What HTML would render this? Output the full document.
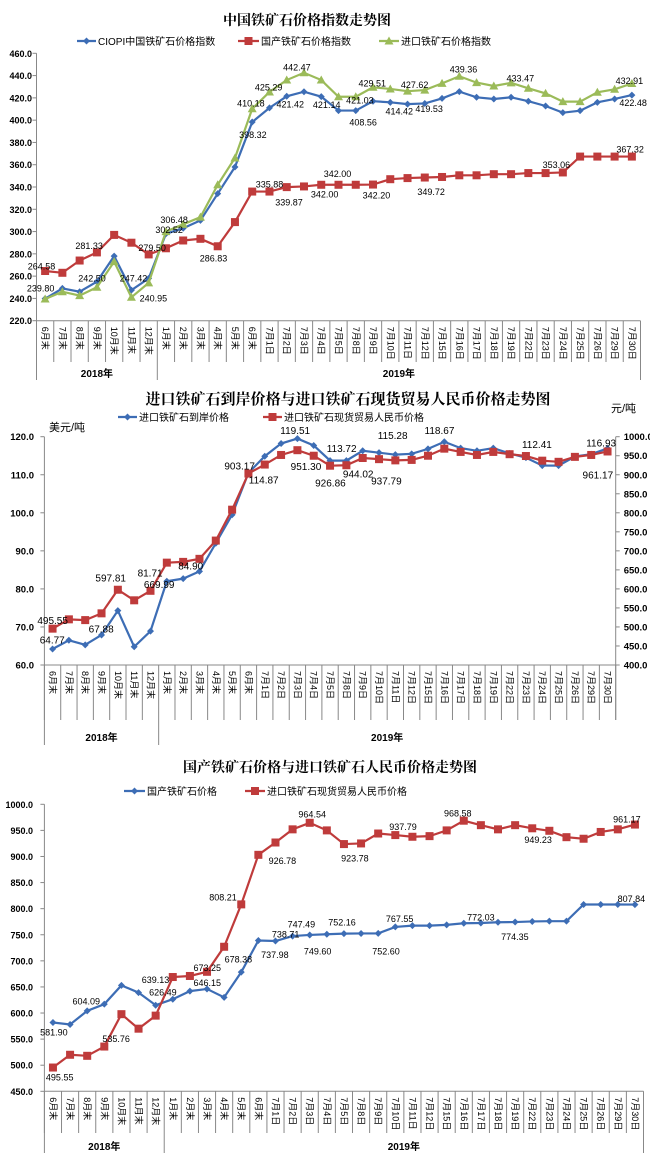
<!DOCTYPE html>
<html><head><meta charset="utf-8"><style>
body{margin:0;background:#fff}
svg{display:block}
text{font-family:"Liberation Sans","Noto Sans CJK SC",sans-serif;fill:#000}
.t{font-family:"Liberation Serif","Noto Serif CJK SC",serif;font-weight:bold}
</style></head><body>
<svg id="s" width="650" height="1165" viewBox="0 0 650 1165" xmlns="http://www.w3.org/2000/svg"></svg>
<script>
const S=document.getElementById('s');let h='';
const cats=['6月末','7月末','8月末','9月末','10月末','11月末','12月末','1月末','2月末','3月末','4月末','5月末','6月末','7月1日','7月2日','7月3日','7月4日','7月5日','7月8日','7月9日','7月10日','7月11日','7月12日','7月15日','7月16日','7月17日','7月18日','7月19日','7月22日','7月23日','7月24日','7月25日','7月26日','7月29日','7月30日'];
const B='#3d6db5',R='#bf3b3b',G='#9bbb59';
function mk(t,x,y,c){
 if(t=='d')return `<path d="M${x} ${y-3.5}L${x+3.5} ${y}L${x} ${y+3.5}L${x-3.5} ${y}Z" fill="${c}"/>`;
 if(t=='s')return `<rect x="${x-4}" y="${y-4}" width="8" height="8" fill="${c}"/>`;
 return `<path d="M${x} ${y-4.5}L${x+4.5} ${y+3.5}L${x-4.5} ${y+3.5}Z" fill="${c}"/>`;
}
function chart(c){
 const cw=(c.x1-c.x0)/35,X=i=>c.x0+(i+0.5)*cw;
 const Y=(v,a)=>{a=a||c.L;return c.yb-(v-a[0])/(a[1]-a[0])*(c.yb-c.yt)};
 // axes
 h+=`<line x1="${c.x0}" y1="${c.yt}" x2="${c.x0}" y2="${c.ye}" stroke="#888"/>`;
 h+=`<line x1="${c.x0}" y1="${c.yb}" x2="${c.x1}" y2="${c.yb}" stroke="#888"/>`;
 if(c.Rt)h+=`<line x1="${c.x1}" y1="${c.yt}" x2="${c.x1}" y2="${c.yd}" stroke="#888"/>`;
 for(let v=c.L[0];v<=c.L[1]+1e-6;v+=c.L[2]){const y=Y(v);h+=`<line x1="${c.x0-4}" y1="${y}" x2="${c.x0}" y2="${y}" stroke="#888"/><text x="${c.lx}" y="${y+3.5}" font-size="${c.fs}" text-anchor="end" font-weight="bold">${v.toFixed(1)}</text>`;}
 if(c.Rt)for(let v=c.Rt[0];v<=c.Rt[1]+1e-6;v+=c.Rt[2]){const y=Y(v,c.Rt);h+=`<line x1="${c.x1}" y1="${y}" x2="${c.x1+4}" y2="${y}" stroke="#888"/><text x="${c.x1+8}" y="${y+3.5}" font-size="${c.fs}" font-weight="bold">${v.toFixed(1)}</text>`;}
 for(let i=0;i<=35;i++){const x=c.x0+i*cw;h+=`<line x1="${x}" y1="${c.yb}" x2="${x}" y2="${i==7?c.ye:(i==35&&!c.Rt?c.ye:c.yd)}" stroke="#888"/>`;}
 cats.forEach((t,i)=>{h+=`<text transform="translate(${X(i)-3},${c.yb+6}) rotate(90)" font-size="9">${t}</text>`});
 h+=`<text x="${c.x0+3.5*cw}" y="${c.yy}" font-size="10" font-weight="bold" text-anchor="middle">2018年</text><text x="${c.x0+21*cw}" y="${c.yy}" font-size="10" font-weight="bold" text-anchor="middle">2019年</text>`;
 c.ser.forEach(s=>{const a=s.r?c.Rt:c.L;h+=`<polyline points="${s.d.map((v,i)=>X(i)+','+Y(v,a)).join(' ')}" fill="none" stroke="${s.c}" stroke-width="2.2"/>`;s.d.forEach((v,i)=>h+=mk(s.m,X(i),Y(v,a),s.c));});
 c.lab.forEach(l=>h+=`<text x="${l[0]/2.412}" y="${l[1]/3+c.off+4}" font-size="${c.lfs}" text-anchor="middle">${l[2]}</text>`);
}
function leg(x1,x2,y,c,m,tx,t){h+=`<line x1="${x1}" y1="${y}" x2="${x2}" y2="${y}" stroke="${c}" stroke-width="2.2"/>`+mk(m,(x1+x2)/2,y,c)+`<text x="${tx}" y="${y+4}" font-size="10">${t}</text>`;}
// chart1
h+=`<text class="t" x="307" y="25" font-size="14" text-anchor="middle">中国铁矿石价格指数走势图</text>`;
leg(77,96,41,B,'d',98,'CIOPI中国铁矿石价格指数');leg(238,259,41,R,'s',261,'国产铁矿石价格指数');leg(379,399,41,G,'t',401,'进口铁矿石价格指数');
chart({x0:36.5,x1:640.5,yt:53.3,yb:320.7,ye:380,yd:362,L:[220,460,20],lx:32,fs:9,yy:377,off:0,lfs:9,
ser:[{d:[239.8,249,246,255,278,247.4,258,298,303,310,334,358,398.3,411,421.4,425.5,421.1,408.6,408.6,417,416,414.4,415,419.5,425.6,420.5,419,420.5,417,412.7,406.7,408.5,416,419,422.5],c:B,m:'d'},
{d:[264.6,263,274,281.3,297,290,279.5,285,292,293.5,286.8,308.5,335.9,335.9,339.9,340.5,342,342,342,342.2,347,348,348.5,349,350.5,350.5,351.5,351.5,352.5,352.5,353.06,367.3,367.3,367.3,367.3],c:R,m:'s'},
{d:[239.5,246,242.5,250,273,241,254,300,306.5,313,342,366,410.2,425.3,436,442.5,436,421,421,429.5,428,426,427,433,439.4,433.7,430.7,433.5,428.6,424,416.6,416.6,425,427.7,432.9],c:G,m:'t'}],
lab:[[100,797,'264.58'],[98,862,'239.80'],[215,735,'281.33'],[222,833,'242.50'],[367,741,'279.50'],[322,833,'247.42'],[370,893,'240.95'],[420,657,'306.48'],[408,687,'302.52'],[515,772,'286.83'],[605,308,'410.18'],[610,402,'398.32'],[648,259,'425.29'],[716,200,'442.47'],[700,311,'421.42'],[650,550,'335.88'],[697,604,'339.87'],[788,312,'421.14'],[814,519,'342.00'],[783,580,'342.00'],[898,247,'429.51'],[868,298,'421.03'],[876,364,'408.56'],[908,583,'342.20'],[963,332,'414.42'],[1000,252,'427.62'],[1035,324,'419.53'],[1040,573,'349.72'],[1118,206,'439.36'],[1255,232,'433.47'],[1342,492,'353.06'],[1518,240,'432.91'],[1527,306,'422.48'],[1520,445,'367.32']]});
// chart2
h+=`<text class="t" x="348" y="404" font-size="15" text-anchor="middle">进口铁矿石到岸价格与进口铁矿石现货贸易人民币价格走势图</text>`;
leg(118,137,417,B,'d',139,'进口铁矿石到岸价格');leg(263,282,417,R,'s',284,'进口铁矿石现货贸易人民币价格');
h+=`<text x="49" y="431" font-size="11">美元/吨</text><text x="611" y="412" font-size="11">元/吨</text>`;
const red=[495.55,520,518,535.76,597.81,570,595,669,671,679,727,808.21,903.17,926.78,952,964.54,950,923.78,925,944,941,937.79,939,950,968.58,960,952,960,954,949.23,937,934,947,952,961.17];
chart({x0:44.4,x1:615.7,yt:436.7,yb:665,ye:745,yd:720,L:[60,120,10],Rt:[400,1000,50],lx:34,fs:9.5,yy:741,off:380,lfs:10,
ser:[{d:[64.2,66.5,65.3,67.9,74.3,64.8,68.9,82,82.7,84.6,92,99.5,110.5,114.87,118.2,119.51,117.7,113.72,113.72,116.3,115.8,115.28,115.5,116.8,118.67,117,116.3,117,115.6,114.5,112.41,112.4,114.8,115.4,116.93],c:B,m:'d'},
{d:red,c:R,m:'s',r:1}],
lab:[[712,150,'119.51'],[824,204,'113.72'],[947,165,'115.28'],[1060,150,'118.67'],[1295,192,'112.41'],[1450,188,'116.93'],[578,256,'903.17'],[636,298,'114.87'],[738,258,'951.30'],[797,308,'926.86'],[864,280,'944.02'],[932,302,'937.79'],[1442,283,'961.17'],[362,578,'81.71'],[460,556,'84.90'],[384,612,'669.99'],[267,592,'597.81'],[244,746,'67.88'],[127,720,'495.55'],[126,778,'64.77']]});
// chart3
h+=`<text class="t" x="330" y="772" font-size="14" text-anchor="middle">国产铁矿石价格与进口铁矿石人民币价格走势图</text>`;
leg(124,145,791,B,'d',147,'国产铁矿石价格');leg(245,265,791,R,'s',267,'进口铁矿石现货贸易人民币价格');
chart({x0:44.4,x1:643.5,yt:804.3,yb:1091.3,ye:1153,yd:1133,L:[450,1000,50],lx:33,fs:9,yy:1150,off:760,lfs:9,
ser:[{d:[581.9,578,604.09,617,653,639.13,615,626.49,642,646.15,630,678.38,739,737.98,747.49,749.6,751,752.16,752.5,752.6,765,767.55,767.5,769,772.03,772.5,774,774.35,775.5,776,776,808,808,808,807.84],c:B,m:'d'},{d:red,c:R,m:'s'}],
lab:[[753,160,'964.54'],[1104,158,'968.58'],[1512,175,'961.17'],[972,198,'937.79'],[681,300,'926.78'],[856,292,'923.78'],[1298,237,'949.23'],[538,409,'808.21'],[1523,414,'807.84'],[1160,469,'772.03'],[964,474,'767.55'],[825,484,'752.16'],[727,490,'747.49'],[689,521,'738.71'],[1242,528,'774.35'],[663,582,'737.98'],[766,571,'749.60'],[931,571,'752.60'],[575,595,'678.38'],[500,621,'673.25'],[500,666,'646.15'],[375,657,'639.13'],[393,695,'626.49'],[208,722,'604.09'],[130,814,'581.90'],[280,834,'535.76'],[144,949,'495.55']]});
S.innerHTML=h;
</script>
</body></html>
